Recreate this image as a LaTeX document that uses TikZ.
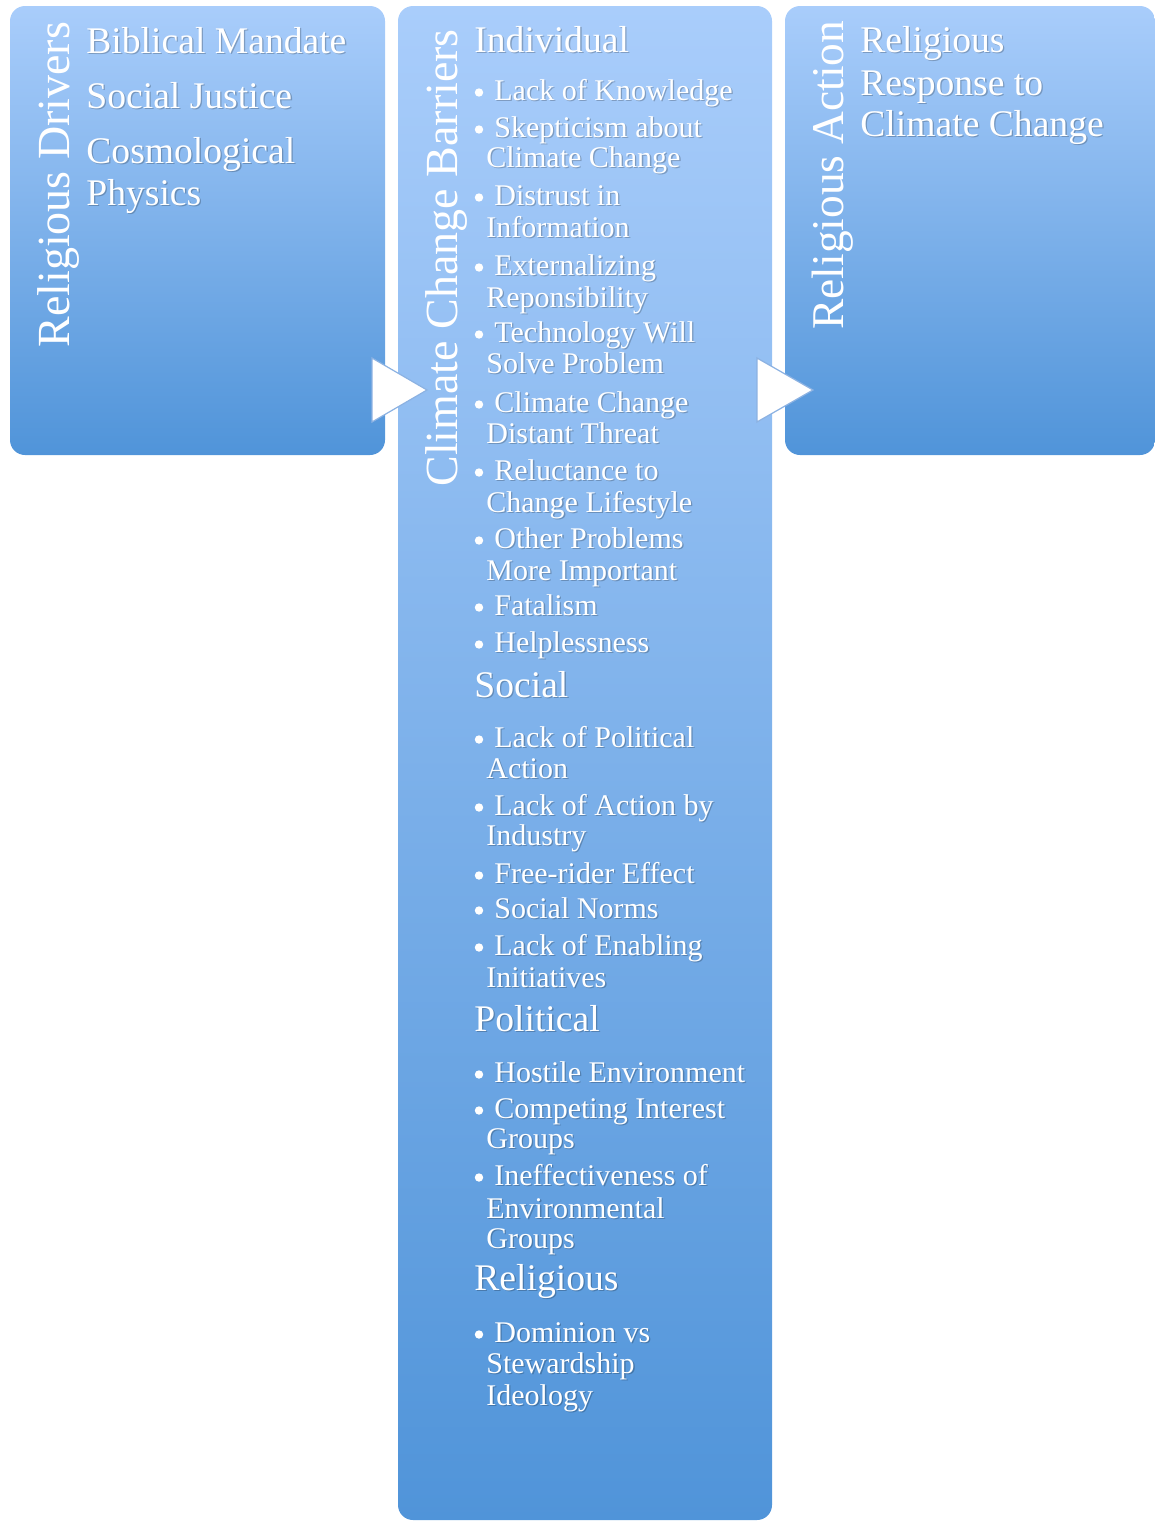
\documentclass[tikz,border=0pt]{standalone}
\usepackage{fontspec}
\setmainfont{Liberation Serif}
\definecolor{topc}{RGB}{169,205,251}
\definecolor{botc}{RGB}{80,148,217}
\definecolor{arrline}{RGB}{140,178,226}
\tikzset{
  box/.style={rectangle, rounded corners=7.5pt, top color=topc, bottom color=botc, draw=none, inner sep=0},
  txt/.style={anchor=base west, inner sep=0, text=white},
  shd/.style={text=black, text opacity=0.22},
  big/.style={font=\fontsize{18.8}{22}\selectfont},
  small/.style={font=\fontsize{15}{18}\selectfont},
  vtitle/.style={font=\fontsize{23}{27}\selectfont, rotate=90, anchor=base west, inner sep=0, text=white},
  chevron/.style={fill=white, draw=arrline, line width=0.6pt, line join=miter},
}
\newcommand\tl[5]{%
  \node[txt,#2,shd] (#1s) at (#3+1.3,#4+1.3) {#5};
  \node[txt,#2] (#1) at (#3,#4) {#5};}
\begin{document}
\begin{tikzpicture}[x=0.5pt,y=-0.5pt]
\useasboundingbox (0,0) rectangle (1155,1521);
% boxes
\node[box, minimum width=187.5pt, minimum height=224.5pt] (L) at (197.5,230.5) {};
\node[box, minimum width=187pt, minimum height=757pt] (M) at (585,763) {};
\node[box, minimum width=185pt, minimum height=224.5pt] (R) at (970,230.5) {};
% chevrons
\coordinate (a1b) at (372,358); \coordinate (a1t) at (427,390); \coordinate (a1c) at (372,422);
\coordinate (a2b) at (757,358); \coordinate (a2t) at (813,390); \coordinate (a2c) at (757,422);
\draw[chevron] (a1b) -- (a1t) -- (a1c) -- cycle;
\draw[chevron] (a2b) -- (a2t) -- (a2c) -- cycle;
% vertical titles
\node[vtitle] (tL) at (69,348) {Religious Drivers};
\node[vtitle] (tM) at (457,487) {Climate Change Barriers};
\node[vtitle, font=\fontsize{22.7}{27}\selectfont] (tR) at (843,330) {Religious Action};
% left box text
\tl{l1}{big}{86}{53}{Biblical Mandate}
\tl{l2}{big}{86}{108}{Social Justice}
\tl{l3}{big}{86}{163}{Cosmological}
\tl{l4}{big}{86}{205}{Physics}
% right box text
\tl{r1}{big}{860}{52}{Religious}
\tl{r2}{big}{860}{95}{Response to}
\tl{r3}{big}{860}{136}{Climate Change}
% headings
\tl{h1}{big}{474}{52}{Individual}
\tl{h2}{big}{474}{697}{Social}
\tl{h3}{big}{474}{1031}{Political}
\tl{h4}{big}{474}{1290}{Religious}
% bullet lines
\foreach \yy/\tt [count=\i] in {100/Lack of Knowledge, 137/Skepticism about, 205/Distrust in,
  275/Externalizing, 342/Technology Will, 412/Climate Change, 480/Reluctance to,
  548/Other Problems, 615/Fatalism, 652/Helplessness, 747/Lack of Political,
  815/Lack of Action by, 883/Free-rider Effect, 918/Social Norms, 955/Lack of Enabling,
  1082/Hostile Environment, 1118/Competing Interest, 1185/Ineffectiveness of, 1342/Dominion vs}{
  \node[circle, fill=white, inner sep=0, minimum size=4.2pt] (bu\i) at (479,\yy-7.5) {};
  \tl{b\i}{small}{494}{\yy}{\tt}
}
% continuation lines
\foreach \yy/\tt [count=\i] in {167/Climate Change, 237/Information, 307/Reponsibility,
  373/Solve Problem, 443/Distant Threat, 512/Change Lifestyle, 580/More Important,
  778/Action, 845/Industry, 987/Initiatives, 1148/Groups, 1218/Environmental,
  1248/Groups, 1373/Stewardship, 1405/Ideology}{
  \tl{c\i}{small}{486}{\yy}{\tt}
}
\end{tikzpicture}
\end{document}
